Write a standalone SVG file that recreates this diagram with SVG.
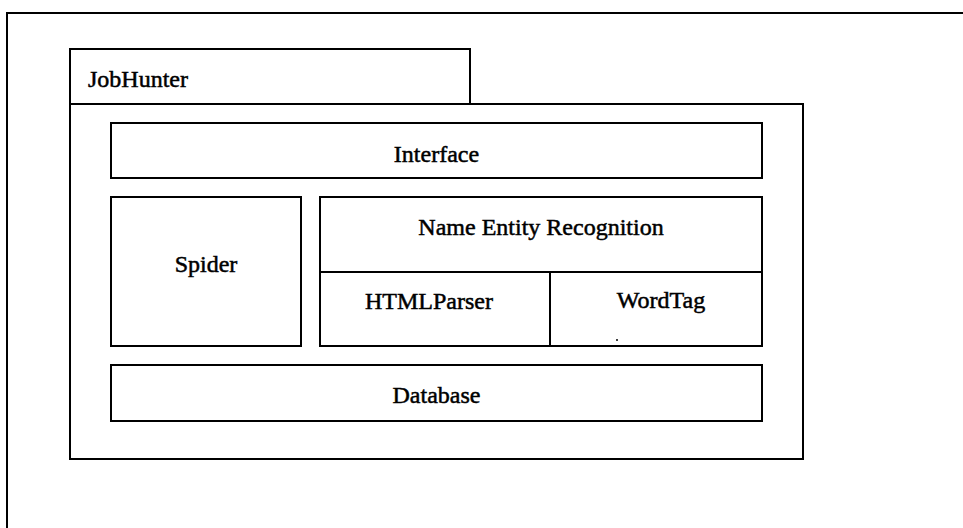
<svg xmlns="http://www.w3.org/2000/svg" width="963" height="528" viewBox="0 0 963 528">
<style>
.b{fill:#fff;stroke:#000;stroke-width:2}
.l{fill:none;stroke:#000;stroke-width:2}
text{font-family:"Liberation Serif","Times New Roman",serif;font-size:24px;fill:#000;stroke:#000;stroke-width:0.5}
.c{text-anchor:middle}
</style>
<rect width="963" height="528" fill="#fff"/>
<g id="frame"><path class="l" d="M7,528 V13 H963"/></g>
<g id="jobhunter">
<rect class="b" x="70" y="49" width="400" height="55"/>
<rect class="b" x="70" y="104" width="733" height="355"/>
<text x="88" y="87">JobHunter</text>
</g>
<g id="interface"><rect class="b" x="111" y="123" width="651" height="55"/><text class="c" x="436.5" y="162">Interface</text></g>
<g id="spider"><rect class="b" x="111" y="197" width="190" height="149"/><text class="c" x="206" y="272">Spider</text></g>
<g id="ner"><rect class="b" x="320" y="197" width="442" height="75"/><text class="c" x="541" y="235">Name Entity Recognition</text></g>
<g id="htmlparser"><rect class="b" x="320" y="272" width="230" height="74"/><text class="c" x="429" y="309">HTMLParser</text></g>
<g id="wordtag"><rect class="b" x="550" y="272" width="212" height="74"/><text class="c" x="661" y="308">WordTag</text><circle cx="617" cy="340" r="1" fill="#000"/></g>
<g id="database"><rect class="b" x="111" y="365" width="651" height="56"/><text class="c" x="436.5" y="403">Database</text></g>
<g id="connectors"></g>
</svg>
